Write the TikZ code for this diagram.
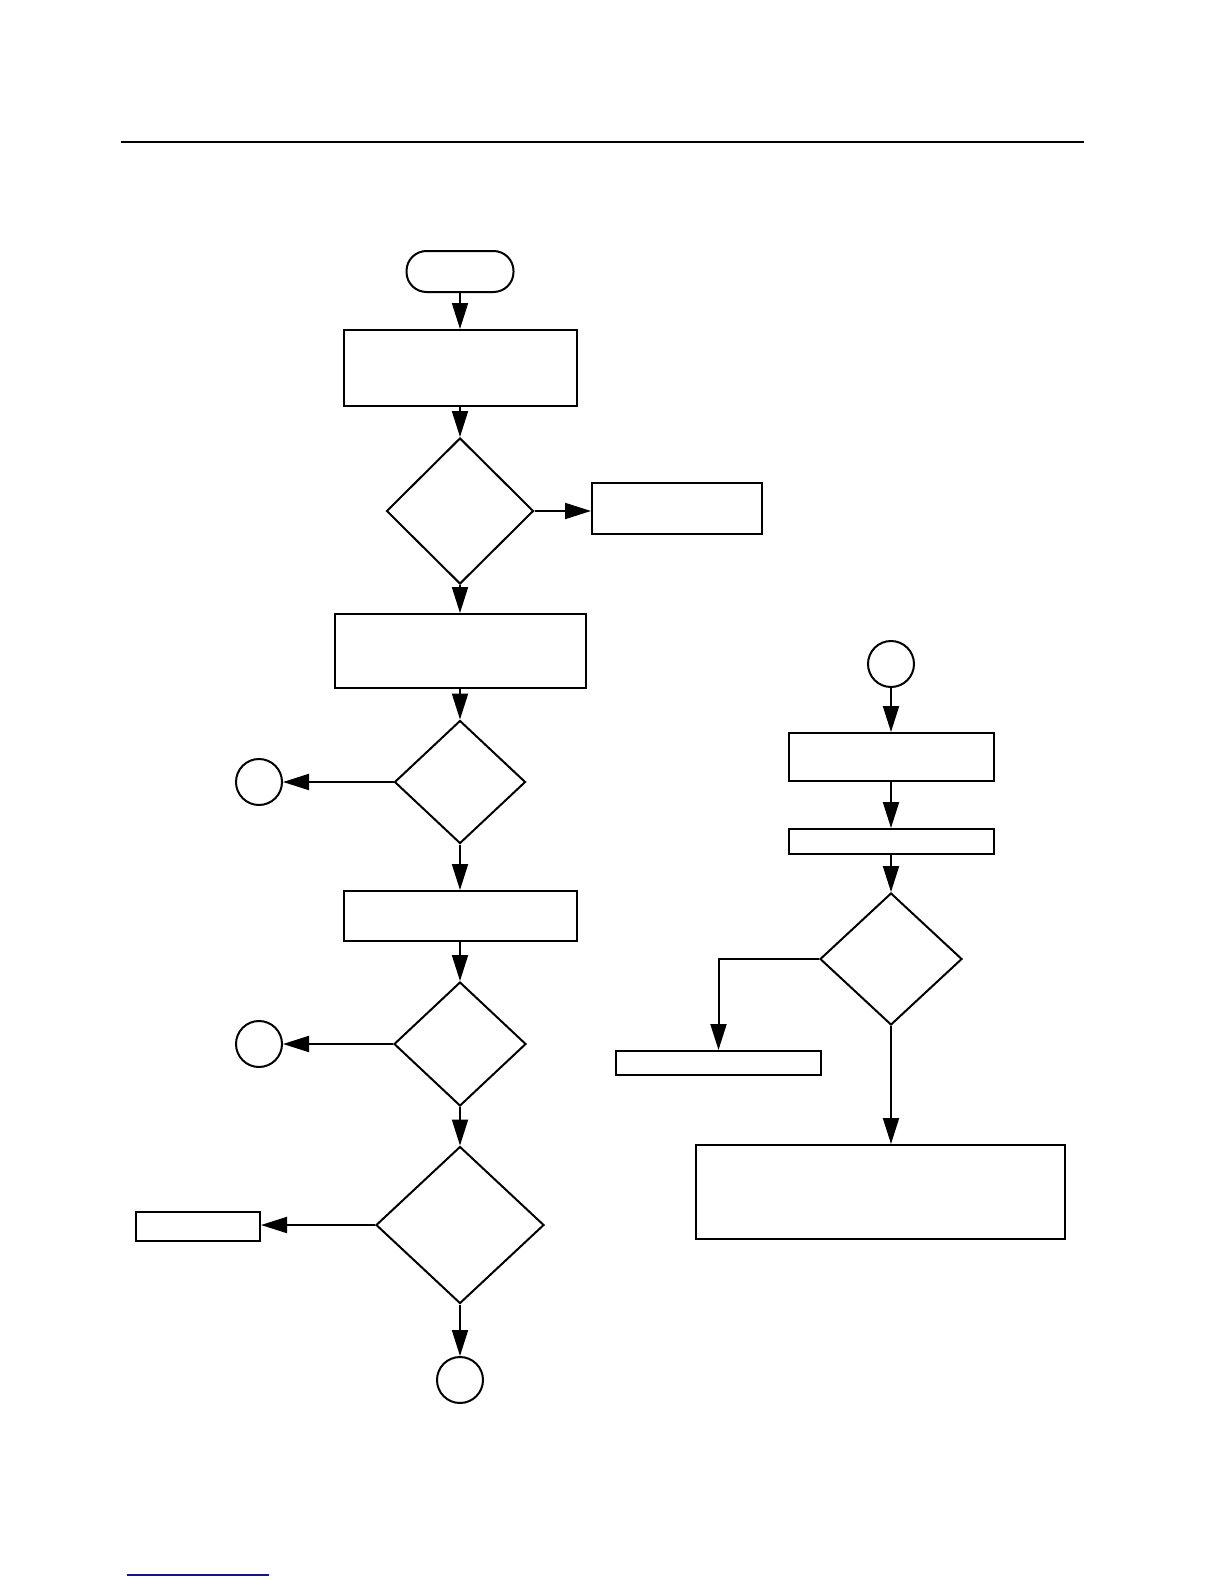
\documentclass[tikz,border=0pt]{standalone}
\usetikzlibrary{shapes.geometric,arrows.meta}
\begin{document}
\begin{tikzpicture}[x=0.5pt,y=-0.5pt,
  every node/.style={draw,line width=1pt,inner sep=0pt},
  boxn/.style={rectangle},
  dec/.style={diamond},
  conn/.style={circle,minimum size=23pt},
  term/.style={rectangle,rounded corners=10pt,minimum width=53.5pt,minimum height=20.5pt},
  arr/.style={line width=1pt,-{Triangle[length=13pt,width=8pt]}},
  ln/.style={line width=1pt}]
\useasboundingbox (0,0) rectangle (1224,1584);
\fill[white] (0,0) rectangle (1224,1584);
% rules
\draw[line width=1pt] (121,142) -- (1084,142);
\draw[line width=0.7pt,color={rgb,255:red,20;green,20;blue,140}] (127,1575) -- (269,1575);
% left column
\node[term] (start) at (460,271.5) {};
\node[boxn,minimum width=116.5pt,minimum height=38pt] (b1) at (460,368) {};
\node[dec,minimum width=73.5pt,minimum height=73pt] (d1) at (460,511) {};
\node[boxn,minimum width=85pt,minimum height=25.5pt] (rb) at (677,508.5) {};
\node[boxn,minimum width=125.5pt,minimum height=37pt] (b2) at (460,651) {};
\node[dec,minimum width=65.5pt,minimum height=61.5pt] (d2) at (460,782) {};
\node[conn] (c1) at (259,782) {};
\node[boxn,minimum width=116.5pt,minimum height=25pt] (b3) at (460,916) {};
\node[dec,minimum width=66pt,minimum height=62pt] (d3) at (460,1044) {};
\node[conn] (c2) at (259,1044) {};
\node[dec,minimum width=84pt,minimum height=78.5pt] (d4) at (460,1225) {};
\node[boxn,minimum width=62pt,minimum height=14.5pt] (lb) at (198,1226.5) {};
\node[conn] (c3) at (460,1380) {};
% right column
\node[conn] (cr) at (891,664) {};
\node[boxn,minimum width=102.5pt,minimum height=24pt] (r1) at (891,757) {};
\node[boxn,minimum width=102.5pt,minimum height=12.5pt] (r2) at (891,841.5) {};
\node[dec,minimum width=71pt,minimum height=66pt] (dr) at (891,959) {};
\node[boxn,minimum width=102.5pt,minimum height=12pt] (r3) at (718.5,1063) {};
\node[boxn,minimum width=184.5pt,minimum height=47pt] (big) at (880.5,1192) {};
% connectors
\draw[arr] (start.south) -- (b1.north);
\draw[arr] (b1.south) -- (d1.north);
\draw[arr] (d1.east) -- (d1.east -| rb.west);
\draw[arr] (d1.south) -- (b2.north);
\draw[arr] (b2.south) -- (d2.north);
\draw[arr] (d2.west) -- (c1.east);
\draw[arr] (d2.south) -- (b3.north);
\draw[arr] (b3.south) -- (d3.north);
\draw[arr] (d3.west) -- (c2.east);
\draw[arr] (d3.south) -- (d4.north);
\draw[arr] (d4.west) -- (d4.west -| lb.east);
\draw[arr] (d4.south) -- (c3.north);
\draw[arr] (cr.south) -- (r1.north);
\draw[arr] (r1.south) -- (r2.north);
\draw[arr] (r2.south) -- (dr.north);
\draw[arr] (dr.west) -| (r3.north);
\draw[arr] (dr.south) -- (dr.south |- big.north);
\end{tikzpicture}
\end{document}
